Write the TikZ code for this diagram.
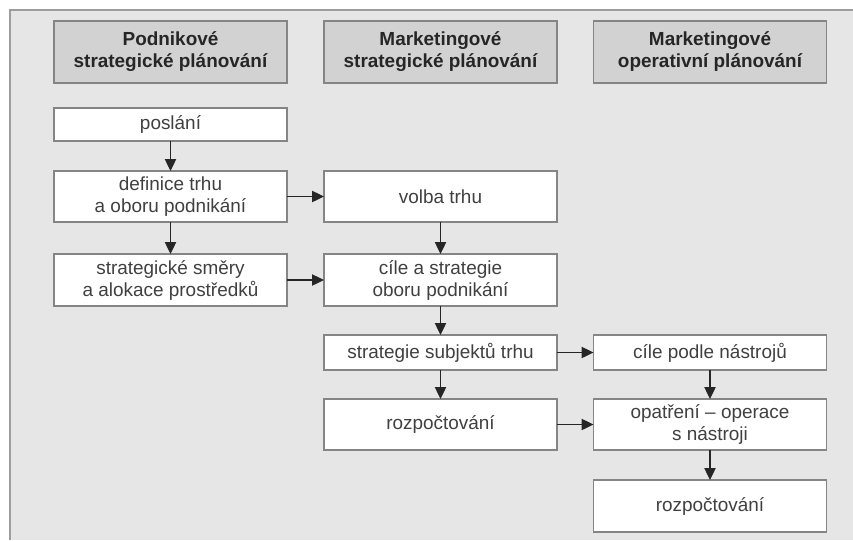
\documentclass[tikz,border=0pt]{standalone}
\usepackage{fontspec}
\setmainfont{Liberation Sans}
\usetikzlibrary{arrows.meta}
\definecolor{bgc}{HTML}{E6E6E6}
\definecolor{hdrc}{HTML}{D2D2D2}
\definecolor{edgec}{HTML}{858585}
\definecolor{txtc}{HTML}{404040}
\definecolor{hdrtxt}{HTML}{262626}
\begin{document}
\begin{tikzpicture}[x=0.75pt,y=-0.75pt,
  box/.style={draw=edgec,line width=1.1pt,fill=white,inner sep=0pt,outer sep=0pt,
    minimum width=174.75pt,align=center,text=txtc,font=\fontsize{14.2}{16.5}\selectfont},
  hdr/.style={box,fill=hdrc,text=hdrtxt,minimum height=46.5pt,font=\fontsize{14.2}{16.5}\selectfont\bfseries},
  arr/.style={draw=black!85,line width=0.9pt,-{Triangle[length=9pt,width=8.5pt]}}]
\useasboundingbox (0,0) rectangle (853,540);
\fill[bgc] (10,10) rectangle (853,540);
\draw[edgec!80,line width=1.5pt] (10,540) -- (10,10) -- (853,10);
% headers
\node[hdr] (h1) at (170.5,52) {Podnikové\\strategické plánování};
\node[hdr] (h2) at (440.5,52) {Marketingové\\strategické plánování};
\node[hdr] (h3) at (710,52) {Marketingové\\operativní plánování};
% column 1
\node[box,minimum height=24.75pt] (posl) at (170.5,124.5) {poslání};
\node[box,minimum height=38.25pt] (def) at (170.5,196.5) {definice trhu\\a oboru podnikání};
\node[box,minimum height=39pt] (smer) at (170.5,280) {strategické směry\\a alokace prostředků};
% column 2
\node[box,minimum height=38.25pt] (volba) at (440.5,196.5) {volba trhu};
\node[box,minimum height=39pt] (cile) at (440.5,280) {cíle a strategie\\oboru podnikání};
\node[box,minimum height=26.25pt] (subj) at (440.5,352.5) {strategie subjektů trhu};
\node[box,minimum height=38.25pt] (rozp1) at (440.5,424.5) {rozpočtování};
% column 3
\node[box,minimum height=26.25pt] (nastr) at (710,352.5) {cíle podle nástrojů};
\node[box,minimum height=38.25pt] (opat) at (710,424.5) {opatření – operace\\s nástroji};
\node[box,minimum height=39pt] (rozp2) at (710,506) {rozpočtování};
% arrows
\draw[arr] (posl) -- (def);
\draw[arr] (def) -- (smer);
\draw[arr] (def) -- (volba);
\draw[arr] (smer) -- (cile);
\draw[arr] (volba) -- (cile);
\draw[arr] (cile) -- (subj);
\draw[arr] (subj) -- (rozp1);
\draw[arr] (subj) -- (nastr);
\draw[arr] (rozp1) -- (opat);
\draw[arr] (nastr) -- (opat);
\draw[arr] (opat) -- (rozp2);
\end{tikzpicture}
\end{document}
